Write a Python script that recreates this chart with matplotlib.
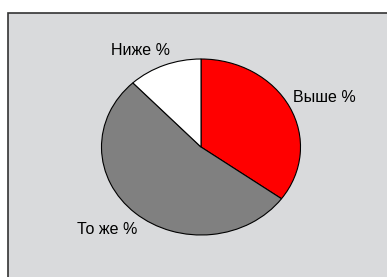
import matplotlib
matplotlib.use("Agg")
import matplotlib.pyplot as plt
from matplotlib.patches import Rectangle

categories = ["Выше %", "То же %", "Ниже %"]
values = [35, 53, 12]
colors = ["#FF0000", "#808080", "#FFFFFF"]

W, H = 387, 277
fig = plt.figure(figsize=(W / 100, H / 100), dpi=100)
fig.patch.set_facecolor("white")
fig.patches.append(Rectangle((8 / W, -0.1), 1.2, (H - 13) / H + 0.1,
                             transform=fig.transFigure, facecolor="#D9DADC",
                             edgecolor="#333333", linewidth=1.2, zorder=-10))

cx, cy, rx, ry = 201, 147, 99.5, 88
ax = fig.add_axes([(cx - rx) / W, (H - cy - ry) / H, 2 * rx / W, 2 * ry / H])
ax.set_zorder(5)
ax.set_facecolor("none")
ax.pie(values, colors=colors, startangle=90, counterclock=False,
       wedgeprops=dict(edgecolor="black", linewidth=0.8), radius=1.0)
ax.set_aspect("auto")
ax.set_xlim(-1, 1)
ax.set_ylim(-1, 1)
ax.axis("off")

label_pos = [(1.24, 0.56), (-0.94, -0.94), (-0.61, 1.10)]
for name, (x, y) in zip(categories, label_pos):
    ax.text(x, y, name, ha="center", va="center", fontsize=11.5,
            family=["Liberation Sans", "DejaVu Sans"], color="black", clip_on=False)

fig.savefig("out.png", dpi=100)
